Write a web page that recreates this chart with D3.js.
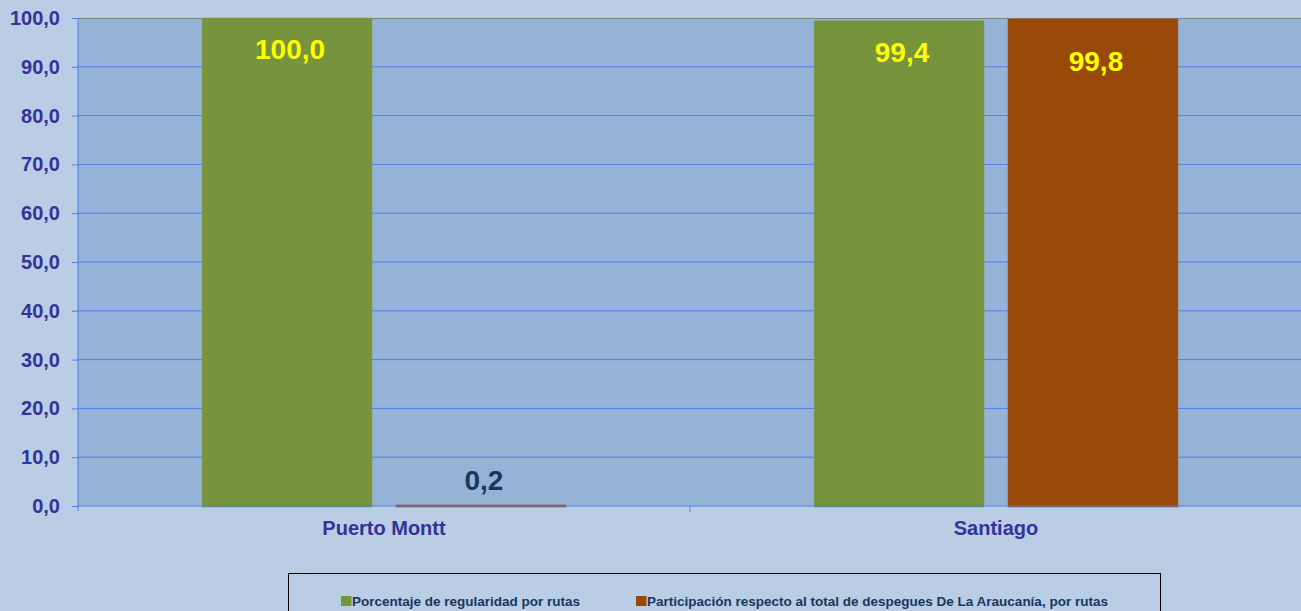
<!DOCTYPE html>
<html>
<head>
<meta charset="utf-8">
<script src="https://cdn.jsdelivr.net/npm/d3@7"></script>
<style>
  body { margin: 0; background: #b9cde5; }
  svg { display: block; font-family: Arial, "Liberation Sans", sans-serif; }
</style>
</head>
<body>
<svg></svg>
<script>
const width = 1301;
const height = 611;

// data
const categories = ["Puerto Montt", "Santiago"];
const seriesNames = [
  "Porcentaje de regularidad por rutas",
  "Participación respecto al total de despegues De La Araucanía, por rutas"
];
const regularidad = [100.0, 99.4];
const participacion = [0.2, 99.8];
const yTicks = [0, 10, 20, 30, 40, 50, 60, 70, 80, 90, 100];

const colors = ["#77933c", "#984807"];

const svg = d3.select("svg")
  .attr("width", width)
  .attr("height", height);

svg.append("rect")
  .attr("width", width)
  .attr("height", height)
  .attr("fill", "#b9cde5");

const plotLeft = 78, plotRight = 1302, plotTop = 18, plotBottom = 506;

const x = d3.scaleBand()
  .domain(categories)
  .range([plotLeft, plotRight]);

const x1 = d3.scaleBand()
  .domain([0, 1])
  .range([0, x.bandwidth()])
  .paddingInner(0.124)
  .paddingOuter(0.64);

const y = d3.scaleLinear()
  .domain([0, 100])
  .range([plotBottom, plotTop]);

const fmt = v => d3.format(".1f")(v).replace(".", ",");

// plot area
svg.append("rect")
  .attr("x", plotLeft)
  .attr("y", plotTop)
  .attr("width", plotRight - plotLeft)
  .attr("height", plotBottom - plotTop)
  .attr("fill", "#95b3d7");

// gridlines
svg.append("g")
  .selectAll("line")
  .data(yTicks.filter(d => d > 0 && d < 100))
  .enter()
  .append("line")
  .attr("x1", plotLeft)
  .attr("x2", plotRight)
  .attr("y1", d => y(d))
  .attr("y2", d => y(d))
  .attr("stroke", "#4f7ff0")
  .attr("stroke-width", 1);

svg.append("line")
  .attr("x1", plotLeft).attr("x2", plotRight)
  .attr("y1", plotTop + 0.5).attr("y2", plotTop + 0.5)
  .attr("stroke", "#808080");

// bars
const data = categories.map((c, i) => ({ cat: c, values: [regularidad[i], participacion[i]] }));

const groups = svg.append("g")
  .selectAll("g")
  .data(data)
  .enter()
  .append("g")
  .attr("transform", d => `translate(${x(d.cat)},0)`);

groups.selectAll("rect")
  .data(d => d.values.map((v, s) => ({ v, s })))
  .enter()
  .append("rect")
  .attr("x", d => x1(d.s))
  .attr("y", d => y(d.v))
  .attr("width", x1.bandwidth())
  .attr("height", d => plotBottom - y(d.v) + 1)
  .attr("fill", d => colors[d.s])
  .attr("stroke", d => d.s === 0 ? "#7f9a4a" : "#9a5020")
  .attr("stroke-width", 0.6);

// value labels
const labelOffset = [41, 52];
groups.selectAll("text")
  .data(d => d.values.map((v, s) => ({ v, s })))
  .enter()
  .append("text")
  .attr("x", d => x1(d.s) + x1.bandwidth() / 2 + 3)
  .attr("y", d => d.v < 10 ? y(d.v) - 15 : y(d.v) + labelOffset[d.s])
  .attr("text-anchor", "middle")
  .attr("font-size", 28)
  .attr("font-weight", "bold")
  .attr("fill", d => d.v < 10 ? "#17375e" : "#ffff00")
  .text(d => fmt(d.v));

// y axis
const yAxis = svg.append("g")
  .attr("transform", `translate(${plotLeft},0)`)
  .call(d3.axisLeft(y).tickValues(yTicks).tickSize(6).tickFormat(fmt));
yAxis.select(".domain").attr("stroke", "#4f7ff0").attr("d", `M0,${plotTop}V${plotBottom + 5}`);
yAxis.selectAll(".tick line").attr("stroke", "#4f7ff0");
yAxis.selectAll(".tick text")
  .attr("x", -18)
  .attr("font-size", 20)
  .attr("font-weight", "bold")
  .attr("font-family", "Arial, 'Liberation Sans', sans-serif")
  .attr("fill", "#333399");

// x axis
const xAxis = svg.append("g")
  .attr("transform", `translate(0,${plotBottom})`)
  .call(d3.axisBottom(x).tickSize(0).tickPadding(15));
xAxis.select(".domain").attr("stroke", "#4f7ff0").attr("d", `M${plotLeft},0H${plotRight}`);
xAxis.selectAll(".tick text")
  .attr("font-size", 20)
  .attr("font-weight", "bold")
  .attr("font-family", "Arial, 'Liberation Sans', sans-serif")
  .attr("fill", "#333399");
svg.append("line")
  .attr("x1", x(categories[1])).attr("x2", x(categories[1]))
  .attr("y1", plotBottom).attr("y2", plotBottom + 6)
  .attr("stroke", "#4f7ff0");

// legend
const legend = svg.append("g");
legend.append("rect")
  .attr("x", 288.5)
  .attr("y", 573.5)
  .attr("width", 872)
  .attr("height", 50)
  .attr("fill", "#b9cde5")
  .attr("stroke", "#000")
  .attr("stroke-width", 1);

const legendX = [341, 636];
const items = legend.selectAll("g.item")
  .data(seriesNames)
  .enter()
  .append("g")
  .attr("class", "item")
  .attr("transform", (d, i) => `translate(${legendX[i]},596)`);
items.append("rect")
  .attr("width", 10.5)
  .attr("height", 10)
  .attr("fill", (d, i) => colors[i]);
items.append("text")
  .attr("x", 11)
  .attr("y", 10)
  .attr("font-size", 13.5)
  .attr("font-weight", "bold")
  .attr("fill", "#17375e")
  .text(d => d);
</script>
</body>
</html>
